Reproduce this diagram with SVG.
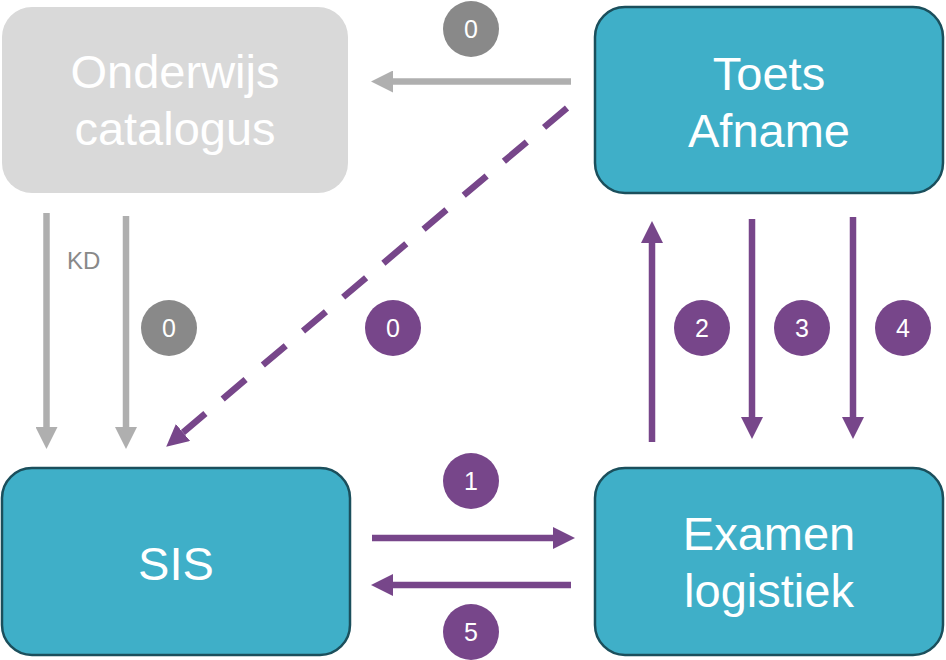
<svg xmlns="http://www.w3.org/2000/svg" width="946" height="660" viewBox="0 0 946 660">
<defs>
<style>
.box{fill:#3fafc8;stroke:#1b4f5c;stroke-width:2.5}
.gbox{fill:#d9d9d9}
.t{font-family:"Liberation Sans",Arial,sans-serif;font-size:47px;fill:#ffffff;text-anchor:middle}
.n{font-family:"Liberation Sans",Arial,sans-serif;font-size:25px;fill:#ffffff;text-anchor:middle}
.g{stroke:#afafaf;stroke-width:6.5;fill:none}
.p{stroke:#77468a;stroke-width:6.5;fill:none}
.cg{fill:#898989}
.cp{fill:#77468a}
</style>
<marker id="ag" markerUnits="userSpaceOnUse" markerWidth="22" markerHeight="22" refX="0" refY="11" orient="auto" viewBox="0 0 22 22"><path d="M0,0 L22,11 L0,22 z" fill="#afafaf"/></marker>
<marker id="ap" markerUnits="userSpaceOnUse" markerWidth="22" markerHeight="22" refX="0" refY="11" orient="auto" viewBox="0 0 22 22"><path d="M0,0 L22,11 L0,22 z" fill="#77468a"/></marker>
</defs>
<rect width="946" height="660" fill="#ffffff"/>
<g id="onderwijs-catalogus">
<rect class="gbox" x="2" y="7" width="346" height="186" rx="30"/>
<text class="t" x="175" y="88">Onderwijs</text>
<text class="t" x="175" y="145">catalogus</text>
</g>
<g id="toets-afname">
<rect class="box" x="595" y="7" width="348" height="186" rx="30"/>
<text class="t" x="769" y="90">Toets</text>
<text class="t" x="769" y="147">Afname</text>
</g>
<g id="sis">
<rect class="box" x="2" y="468" width="348" height="187" rx="30"/>
<text class="t" x="176" y="580">SIS</text>
</g>
<g id="examen-logistiek">
<rect class="box" x="595" y="468" width="348" height="187" rx="30"/>
<text class="t" x="769" y="550">Examen</text>
<text class="t" x="769" y="607">logistiek</text>
</g>
<g id="connectors">
<line class="g" x1="571" y1="81.5" x2="393" y2="81.5" marker-end="url(#ag)"/>
<line class="g" x1="46.5" y1="213" x2="46.5" y2="427" marker-end="url(#ag)"/>
<line class="g" x1="126" y1="216" x2="126" y2="427" marker-end="url(#ag)"/>
<line class="p" x1="567" y1="108" x2="183" y2="432.5" stroke-dasharray="30 22.6" marker-end="url(#ap)"/>
<line class="p" x1="652" y1="442" x2="652" y2="243" marker-end="url(#ap)"/>
<line class="p" x1="752" y1="219" x2="752" y2="417" marker-end="url(#ap)"/>
<line class="p" x1="853" y1="217" x2="853" y2="417" marker-end="url(#ap)"/>
<line class="p" x1="372" y1="538" x2="553" y2="538" marker-end="url(#ap)"/>
<line class="p" x1="571" y1="585" x2="393" y2="585" marker-end="url(#ap)"/>
<text x="67" y="269" font-family="Liberation Sans, Arial, sans-serif" font-size="24" fill="#898989">KD</text>
</g>
<g id="badges">
<circle class="cg" cx="471" cy="29" r="28"/><text class="n" x="471" y="38">0</text>
<circle class="cg" cx="169" cy="328" r="28"/><text class="n" x="169" y="337">0</text>
<circle class="cp" cx="393" cy="328" r="28"/><text class="n" x="393" y="337">0</text>
<circle class="cp" cx="702" cy="328" r="28"/><text class="n" x="702" y="337">2</text>
<circle class="cp" cx="802" cy="328" r="28"/><text class="n" x="802" y="337">3</text>
<circle class="cp" cx="903" cy="328" r="28"/><text class="n" x="903" y="337">4</text>
<circle class="cp" cx="471" cy="481" r="28"/><text class="n" x="471" y="490">1</text>
<circle class="cp" cx="471" cy="632" r="28"/><text class="n" x="471" y="641">5</text>
</g>
</svg>
